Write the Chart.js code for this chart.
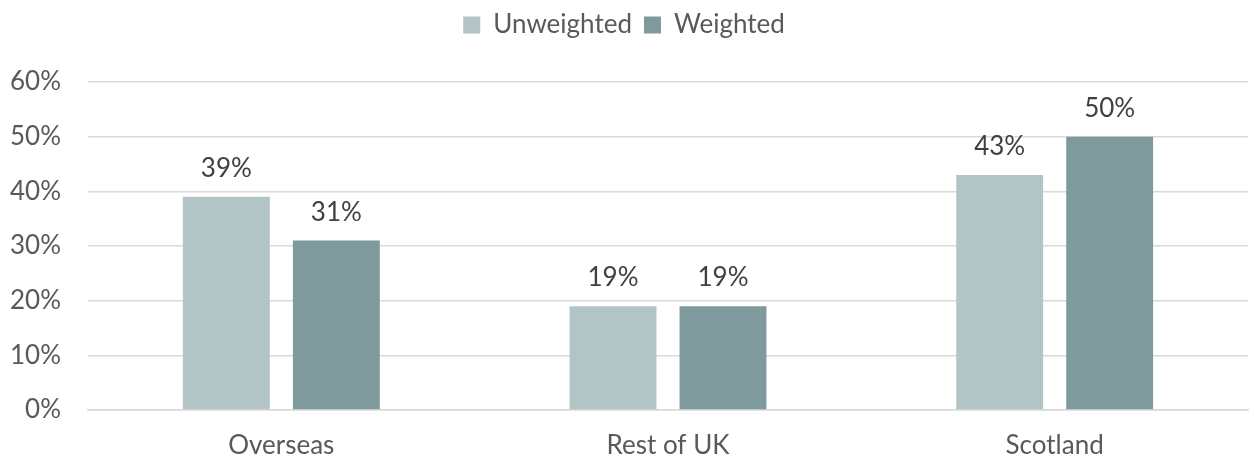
<!DOCTYPE html>
<html>
<head>
<meta charset="utf-8">
<script src="https://cdn.jsdelivr.net/npm/chart.js@4"></script>
<style>
  html, body { margin: 0; padding: 0; background: #fff; }
  #wrap { width: 1254px; height: 459px; }
</style>
</head>
<body>
<div id="wrap"><canvas id="chart"></canvas></div>
<script>
const categories = ['Overseas', 'Rest of UK', 'Scotland'];
const unweighted = [39, 19, 43];
const weighted = [31, 19, 50];
const yTicks = [0, 10, 20, 30, 40, 50, 60];

const FONT = 'Lato, "Open Sans", sans-serif';
const SIZE = 26;

// value above each bar
const barLabels = {
  id: 'barLabels',
  afterDatasetsDraw(chart) {
    const ctx = chart.ctx;
    ctx.save();
    ctx.font = SIZE + 'px ' + FONT;
    ctx.fillStyle = '#404040';
    ctx.textAlign = 'center';
    ctx.textBaseline = 'alphabetic';
    chart.data.datasets.forEach((ds, i) => {
      chart.getDatasetMeta(i).data.forEach((bar, j) => {
        ctx.fillText(ds.data[j] + '%', bar.x, bar.y - 20);
      });
    });
    ctx.restore();
  }
};

// leave a gap under the legend
const legendGap = {
  id: 'legendGap',
  beforeInit(chart) {
    const fit = chart.legend.fit;
    chart.legend.fit = function () {
      fit.call(this);
      this.height += 34;
    };
  }
};

new Chart(document.getElementById('chart'), {
  type: 'bar',
  data: {
    labels: categories,
    datasets: [
      { label: 'Unweighted', data: unweighted, backgroundColor: '#b2c4c6' },
      { label: 'Weighted', data: weighted, backgroundColor: '#7f9a9d' }
    ]
  },
  options: {
    responsive: true,
    maintainAspectRatio: false,
    animation: false,
    layout: { padding: { left: 0, right: 6, top: 0, bottom: 0 } },
    datasets: {
      bar: { categoryPercentage: 0.569, barPercentage: 0.79 }
    },
    plugins: {
      legend: {
        position: 'top',
        labels: {
          font: { family: FONT, size: SIZE },
          color: '#595959',
          boxWidth: 17,
          boxHeight: 17,
          padding: 12
        }
      },
      tooltip: { enabled: false }
    },
    scales: {
      x: {
        grid: { display: false },
        border: { color: '#d9d9d9', width: 1.5 },
        ticks: { font: { family: FONT, size: SIZE }, color: '#595959', padding: 12 },
        afterFit(axis) { axis.height = 49; }
      },
      y: {
        min: 0,
        max: 60,
        afterBuildTicks(axis) { axis.ticks = yTicks.map(v => ({ value: v })); },
        grid: { color: '#d9d9d9', lineWidth: 1.5, drawTicks: false },
        border: { display: false },
        ticks: {
          font: { family: FONT, size: SIZE },
          color: '#595959',
          padding: 27,
          callback: v => v + '%'
        },
        afterFit(axis) { axis.width = 88; }
      }
    }
  },
  plugins: [barLabels, legendGap]
});
</script>
</body>
</html>
